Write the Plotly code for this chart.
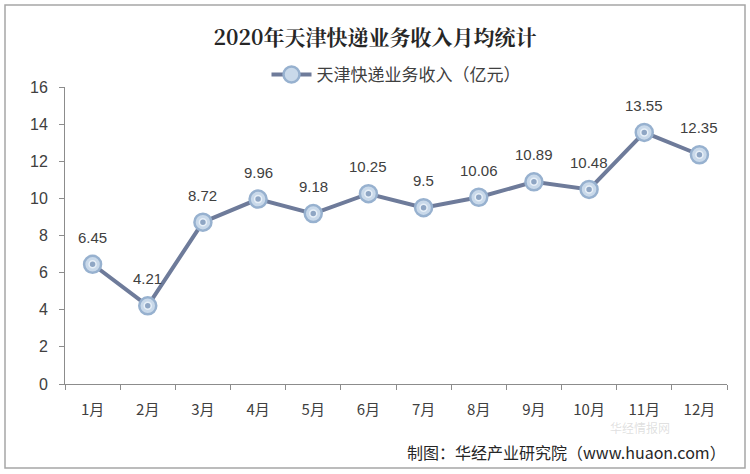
import plotly.graph_objects as go

months = ["1月", "2月", "3月", "4月", "5月", "6月", "7月", "8月", "9月", "10月", "11月", "12月"]
revenue = [6.45, 4.21, 8.72, 9.96, 9.18, 10.25, 9.5, 10.06, 10.89, 10.48, 13.55, 12.35]
labels = ["6.45", "4.21", "8.72", "9.96", "9.18", "10.25", "9.5", "10.06", "10.89", "10.48", "13.55", "12.35"]
y_ticks = [0, 2, 4, 6, 8, 10, 12, 14, 16]

W, H = 750, 474
L, R, T, B = 65, 23, 87, 90
pw, ph = W - L - R, H - T - B

def px_x(p):
    return (p - L) / pw

def px_y(p):
    return (H - B - p) / ph

fig = go.Figure()
fig.add_trace(go.Scatter(
    x=months, y=revenue, mode="lines+markers",
    name="天津快递业务收入（亿元）",
    line=dict(color="#6E7B9A", width=4),
    marker=dict(size=17, color="#C9D9EA", line=dict(color="#97B1CF", width=2.5)),
))
# inner dot of markers
fig.add_trace(go.Scatter(
    x=months, y=revenue, mode="markers", showlegend=False, hoverinfo="skip",
    marker=dict(size=7, color="#8FA6C4", line=dict(color="#E8F0F8", width=1.5)),
))
for m, v, t in zip(months, revenue, labels):
    fig.add_annotation(x=m, y=v, text=t, showarrow=False, yshift=27, yanchor="middle",
                       font=dict(family="Liberation Sans, Arial", size=15, color="#404040"))

fig.update_layout(
    width=W, height=H,
    margin=dict(l=L, r=R, t=T, b=B),
    paper_bgcolor="white", plot_bgcolor="white",
    font=dict(family="Noto Sans CJK SC, Liberation Sans", color="#404040"),
    title=dict(text="<b>2020年天津快递业务收入月均统计</b>", x=0.5, xanchor="center",
               y=1 - 38 / H, yanchor="middle",
               font=dict(family="Noto Serif CJK SC, Noto Sans CJK SC", size=21, color="#262626")),
    showlegend=True,
    legend=dict(orientation="h", x=0.5, xanchor="center", y=px_y(75), yanchor="middle",
                font=dict(family="Noto Sans CJK SC", size=17, color="#404040"),
                bgcolor="rgba(0,0,0,0)", itemwidth=40),
    xaxis=dict(
        type="category", showline=True, linecolor="#8C8C8C", linewidth=1,
        ticks="outside", tickson="boundaries", ticklen=5, tickcolor="#8C8C8C",
        tickfont=dict(family="Noto Sans CJK SC", size=15, color="#404040"),
        ticklabelstandoff=12,
        showgrid=False, range=[-0.5, 11.5],
    ),
    yaxis=dict(
        range=[0, 16], tickvals=y_ticks, showline=True, linecolor="#8C8C8C", linewidth=1,
        ticks="outside", ticklen=5, tickcolor="#8C8C8C",
        tickfont=dict(family="Liberation Sans, Arial", size=16, color="#404040"),
        ticklabelstandoff=8,
        showgrid=False, zeroline=False,
    ),
)

# outer frame
fig.add_shape(type="rect", xref="paper", yref="paper",
              x0=px_x(5), x1=px_x(745), y0=px_y(468), y1=px_y(5),
              line=dict(color="#A6A6A6", width=1.5))

# watermark
fig.add_annotation(xref="paper", yref="paper", x=px_x(672), y=px_y(427), text="华经情报网",
                   showarrow=False, yanchor="middle",
                   font=dict(family="Noto Sans CJK SC", size=12, color="rgba(150,150,150,0.3)"))

# source
fig.add_annotation(xref="paper", yref="paper", x=px_x(728), y=px_y(452), text="制图：华经产业研究院（www.huaon.com）",
                   showarrow=False, xanchor="right", yanchor="middle",
                   font=dict(family="Noto Sans CJK SC", size=16, color="#262626"))

fig.write_html("out.html")
